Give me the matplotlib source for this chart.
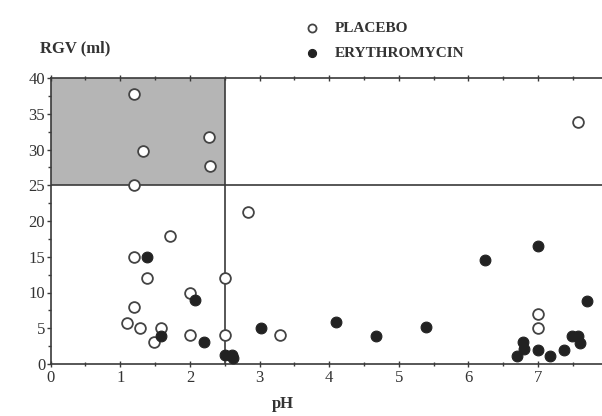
import matplotlib
matplotlib.use("Agg")
import matplotlib.pyplot as plt
from matplotlib.ticker import MultipleLocator

# placebo (open circles)
placebo_ph = [1.2, 2.28, 1.33, 2.29, 1.2, 2.83, 1.71, 1.2, 1.39, 2.5, 2.0, 1.19,
              1.09, 1.29, 1.59, 1.49, 2.0, 2.5, 3.3, 7.58, 7.0, 7.0]
placebo_rgv = [37.7, 31.8, 29.8, 27.7, 25.0, 21.3, 17.9, 15.0, 12.0, 12.0, 10.0, 8.0,
               5.8, 5.1, 5.1, 3.1, 4.0, 4.0, 4.0, 33.8, 7.0, 5.0]

# erythromycin (filled circles)
ery_ph = [1.39, 2.08, 1.59, 2.2, 2.5, 2.6, 2.62, 3.02, 4.1, 4.68, 5.39, 6.24,
          7.0, 6.78, 6.8, 6.7, 7.0, 7.17, 7.38, 7.49, 7.58, 7.61, 7.71]
ery_rgv = [15.0, 9.0, 3.9, 3.1, 1.2, 1.2, 0.9, 5.1, 5.9, 3.9, 5.2, 14.6,
           16.5, 3.1, 2.1, 1.1, 2.0, 1.1, 2.0, 3.9, 3.9, 3.0, 8.8]

x_lim = (0, 8)
y_lim = (0, 40)
ph_cut = 2.5
rgv_cut = 25

plt.rcParams['font.family'] = ['Liberation Serif', 'DejaVu Serif']

fig = plt.figure(figsize=(6.02, 4.16), dpi=100)
ax = fig.add_axes([0.0842, 0.125, 0.925, 0.6875])

line_col = '#3a3a3a'

# shaded quadrant
ax.fill_between([x_lim[0], ph_cut], rgv_cut, y_lim[1], color='#b5b5b5', zorder=0, lw=0)
ax.axvline(ph_cut, color=line_col, lw=1.2, zorder=1)
ax.axhline(rgv_cut, color=line_col, lw=1.2, zorder=1)

ax.scatter(placebo_ph, placebo_rgv, s=60, facecolor='white', edgecolor='#444444',
           linewidth=1.3, zorder=3, label='PLACEBO')
ax.scatter(ery_ph, ery_rgv, s=60, facecolor='#222222', edgecolor='#222222',
           linewidth=0.8, zorder=3, label='ERYTHROMYCIN')

ax.set_xlim(*x_lim)
ax.set_ylim(*y_lim)

ax.xaxis.set_major_locator(MultipleLocator(1))
ax.xaxis.set_minor_locator(MultipleLocator(0.5))
ax.yaxis.set_major_locator(MultipleLocator(5))
ax.yaxis.set_minor_locator(MultipleLocator(2.5))
ax.tick_params(axis='both', which='both', colors=line_col, labelcolor='#333333',
               labelsize=12, width=1)
ax.tick_params(axis='x', which='major', direction='inout', length=5, pad=2,
               top=True)
ax.tick_params(axis='x', which='minor', direction='inout', length=3, top=True)
ax.tick_params(axis='y', which='major', direction='out', length=3, pad=1)
ax.tick_params(axis='y', which='minor', direction='out', length=2)

for side in ['left', 'bottom', 'top']:
    ax.spines[side].set_color(line_col)
    ax.spines[side].set_linewidth(1.2)
ax.spines['right'].set_visible(False)

fig.text(40 / 602, 1 - 48 / 416, 'RGV (ml)', fontsize=12, fontweight='bold',
         color='#333333', va='center', ha='left')
fig.text(283 / 602, 1 - 404 / 416, 'pH', fontsize=12, fontweight='bold',
         color='#333333', va='center', ha='center')

ax.legend(loc='upper left', bbox_to_anchor=(297 / 602, 1 - 21 / 416),
          bbox_transform=fig.transFigure, frameon=False,
          prop={'weight': 'bold', 'size': 11}, handletextpad=0.45,
          labelspacing=0.75, markerscale=0.75, borderaxespad=0, borderpad=0,
          labelcolor='#333333')

fig.savefig('out.png', dpi=100)
